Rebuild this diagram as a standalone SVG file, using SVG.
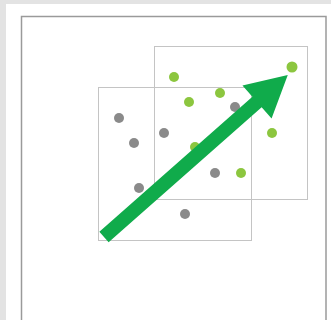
<svg xmlns="http://www.w3.org/2000/svg" width="331" height="320" viewBox="0 0 331 320">
<style>
.sq{fill:none;stroke:#c4c4c4;stroke-width:1}
.g{fill:#8a8a8a}
.l{fill:#8cc63f}
</style>
<rect x="0" y="0" width="331" height="320" fill="#e3e3e3"/>
<rect x="6" y="4" width="325" height="316" fill="#ffffff"/>
<rect x="21.5" y="16.5" width="304.5" height="310" fill="#ffffff" stroke="#9a9a9a" stroke-width="1.5"/>
<g id="square-left"><rect class="sq" x="98.5" y="87.5" width="153" height="153"/></g>
<g id="square-right"><rect class="sq" x="154.5" y="46.5" width="153" height="153"/></g>
<g id="dots-gray">
<circle class="g" cx="119" cy="118" r="5"/>
<circle class="g" cx="134" cy="143" r="5"/>
<circle class="g" cx="164" cy="133" r="5"/>
<circle class="g" cx="235" cy="107" r="5"/>
<circle class="g" cx="215" cy="173" r="5"/>
<circle class="g" cx="139" cy="188" r="5"/>
<circle class="g" cx="185" cy="214" r="5"/>
</g>
<g id="dots-green">
<circle class="l" cx="174" cy="77" r="5"/>
<circle class="l" cx="189" cy="102" r="5"/>
<circle class="l" cx="220" cy="93" r="5"/>
<circle class="l" cx="292" cy="67" r="5.5"/>
<circle class="l" cx="272" cy="133" r="5"/>
<circle class="l" cx="241" cy="173" r="5"/>
<circle class="l" cx="195" cy="147" r="5"/>
</g>
<g id="arrow" transform="translate(104,237) rotate(-41.4)">
<polygon points="0,-7 204,-7 204,-22 245,0 204,22 204,7 0,7" fill="#10ab4b"/>
</g>
</svg>
